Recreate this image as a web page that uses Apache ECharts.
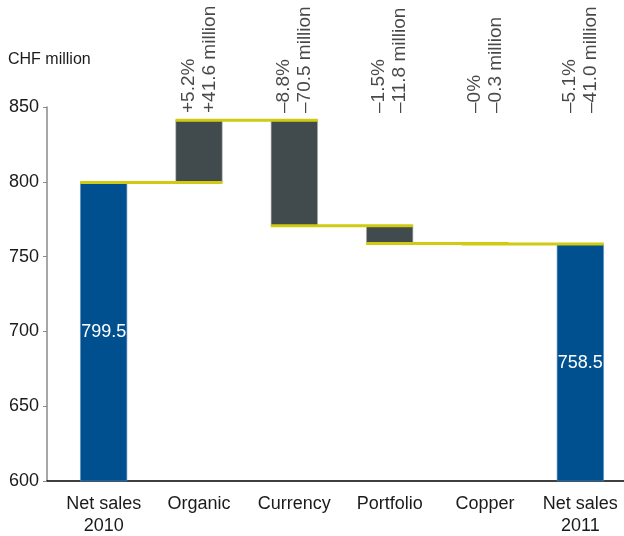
<!DOCTYPE html>
<html>
<head>
<meta charset="utf-8">
<script src="https://cdn.jsdelivr.net/npm/echarts@6/dist/echarts.min.js"></script>
<style>
html,body{margin:0;padding:0;background:#fff;}
#chart{width:624px;height:536px;}
</style>
</head>
<body>
<div id="chart"></div>
<script>
// ---- data ----
const categories = ['Net sales\n2010', 'Organic', 'Currency', 'Portfolio', 'Copper', 'Net sales\n2011'];
const startValue = 799.5;
const changes = [41.6, -70.5, -11.8, -0.3];
const endValue = 758.5;
const pctLabels = ['+5.2%', '–8.8%', '–1.5%', '–0%', '–5.1%'];
const millionLabels = ['+41.6 million', '–70.5 million', '–11.8 million', '–0.3 million', '–41.0 million'];
const yTicks = [600, 650, 700, 750, 800, 850];

// ---- derived waterfall series ----
const levels = [startValue];
changes.forEach(c => levels.push(+(levels[levels.length - 1] + c).toFixed(1)));
const baseData = categories.map(() => '-');
const deltaData = categories.map(() => '-');
const totalData = categories.map(() => '-');
totalData[0] = startValue;
totalData[categories.length - 1] = endValue;
changes.forEach((c, i) => {
  const a = levels[i], b = levels[i + 1];
  baseData[i + 1] = Math.min(a, b);
  deltaData[i + 1] = +Math.abs(b - a).toFixed(1);
});
const connectorData = levels.map((lv, i) => [i, lv]);
const topLabelData = pctLabels.map((p, i) => ({ value: [i + 1, 846], label: { formatter: p + '\n' + millionLabels[i] } }));

const FONT = '"Liberation Sans", Arial, sans-serif';
const BAR_W = 47;
const yellow = '#d0cb10';

const chart = echarts.init(document.getElementById('chart'), null, { renderer: 'canvas' });
chart.setOption({
  animation: false,
  backgroundColor: '#fff',
  title: {
    text: 'CHF million', left: 8, top: 52, padding: 0,
    textStyle: { fontFamily: FONT, fontSize: 16, fontWeight: 'normal', color: '#1a1a1a' }
  },
  grid: [
    { left: 56, width: 572, top: 107, bottom: 55, containLabel: false, outerBoundsMode: 'none' },
    { left: 47, right: 0, top: 107, bottom: 55, containLabel: false, outerBoundsMode: 'none' }
  ],
  xAxis: [
    {
      type: 'category', gridIndex: 0, data: categories,
      axisLine: { show: false }, axisTick: { show: false },
      axisLabel: { fontFamily: FONT, fontSize: 18, color: '#1a1a1a', lineHeight: 22, margin: 12, interval: 0 }
    },
    {
      type: 'value', gridIndex: 1, min: 0, max: 1,
      axisLine: { show: true, lineStyle: { color: '#000', width: 1.5 } },
      axisTick: { show: false }, axisLabel: { show: false }, splitLine: { show: false }
    }
  ],
  yAxis: [
    {
      type: 'value', gridIndex: 0, min: yTicks[0], max: yTicks[yTicks.length - 1], interval: 50, offset: 9,
      axisLine: { show: true, lineStyle: { color: '#8a8a8a', width: 1.5 } },
      axisTick: { show: true, length: 4, lineStyle: { color: '#8a8a8a' } },
      splitLine: { show: false },
      axisLabel: { fontFamily: FONT, fontSize: 18, color: '#1a1a1a', margin: 8 }
    },
    { type: 'value', gridIndex: 1, show: false, min: 0, max: 1 }
  ],
  series: [
    {
      type: 'bar', stack: 'w', data: baseData, barWidth: BAR_W,
      itemStyle: { color: 'transparent' }, silent: true
    },
    {
      type: 'bar', stack: 'w', data: deltaData, barWidth: BAR_W,
      itemStyle: { color: '#414a4c', borderColor: '#a9adae', borderWidth: 0.6 }
    },
    {
      type: 'bar', stack: 'w', data: totalData, barWidth: BAR_W,
      itemStyle: { color: '#00508f', borderColor: '#5a8bbd', borderWidth: 0.6 },
      label: { show: true, position: 'inside', color: '#fff', fontFamily: FONT, fontSize: 18 }
    },
    {
      type: 'custom', data: connectorData, z: 10,
      encode: { x: 0, y: 1 },
      renderItem: function (params, api) {
        const p0 = api.coord([api.value(0), api.value(1)]);
        const p1 = api.coord([api.value(0) + 1, api.value(1)]);
        return {
          type: 'line',
          shape: { x1: p0[0] - BAR_W / 2, y1: p0[1], x2: p1[0] + BAR_W / 2, y2: p0[1] },
          style: { stroke: yellow, lineWidth: 3 }
        };
      }
    },
    {
      type: 'scatter', data: topLabelData, symbolSize: 0, clip: false, z: 20,
      label: {
        show: true, position: 'inside', rotate: 90, align: 'left', verticalAlign: 'middle',
        fontFamily: FONT, fontSize: 19, lineHeight: 21, color: '#1a1a1a'
      }
    }
  ]
});
</script>
</body>
</html>
